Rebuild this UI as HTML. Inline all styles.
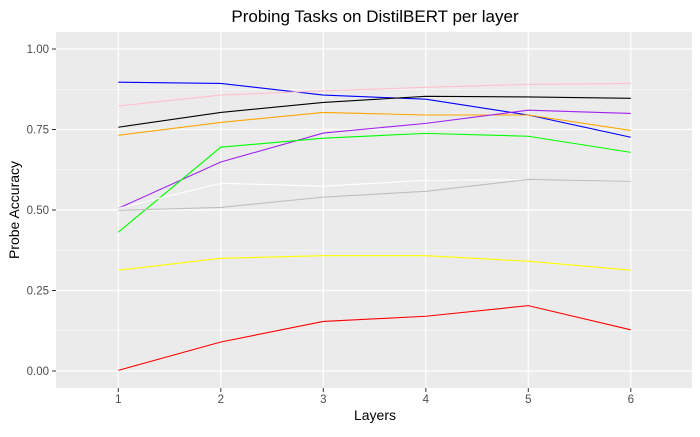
<!DOCTYPE html>
<html><head><meta charset="utf-8"><style>
body{margin:0;background:#fff;font-family:"Liberation Sans",Arial,sans-serif}
svg text{font-family:"Liberation Sans",Arial,sans-serif}
</style></head><body>
<svg id="chart" width="700" height="432" viewBox="0 0 700 432">
<rect x="0" y="0" width="700" height="432" fill="#fff"/>
<text x="375" y="22" text-anchor="middle" font-size="17" fill="#000">Probing Tasks on DistilBERT per layer</text>
<rect x="56" y="32" width="636" height="356" fill="#ebebeb"/>
<g id="grid"></g>
<g id="series"></g>
<g id="axes"></g>
<text x="375" y="420" text-anchor="middle" font-size="14" fill="#000">Layers</text>
<text x="0" y="0" transform="translate(19,210) rotate(-90)" text-anchor="middle" font-size="14" fill="#000">Probe Accuracy</text>
</svg>
<script>
const layers = [1,2,3,4,5,6];
const yTicks = [0,0.25,0.5,0.75,1.0];
const yTickLabels = ["0.00","0.25","0.50","0.75","1.00"];
const seriesColors = ["blue","pink","black","orange","#a020f0","#00ff00","white","#bebebe","yellow","red"];
const blueVals = [0.897,0.893,0.857,0.844,0.795,0.726];
const pinkVals = [0.823,0.857,0.870,0.881,0.890,0.893];
const blackVals = [0.757,0.803,0.834,0.853,0.851,0.847];
const orangeVals = [0.732,0.772,0.803,0.795,0.795,0.747];
const purpleVals = [0.505,0.649,0.739,0.769,0.810,0.800];
const greenVals = [0.431,0.695,0.723,0.738,0.729,0.679];
const whiteVals = [0.505,0.583,0.574,0.592,0.594,0.591];
const grayVals = [0.499,0.508,0.540,0.558,0.595,0.589];
const yellowVals = [0.313,0.350,0.358,0.358,0.341,0.313];
const redVals = [0.002,0.090,0.154,0.170,0.203,0.128];
const allSeries = [blueVals,pinkVals,blackVals,orangeVals,purpleVals,greenVals,whiteVals,grayVals,yellowVals,redVals];
const seriesNames = ["blue","pink","black","orange","purple","green","white","gray","yellow","red"];

const NS="http://www.w3.org/2000/svg";
const xScale = v => 118.3 + (v-1)*102.5;
const yScale = v => 371 - v*322;
function mk(tag, attrs, parent){const e=document.createElementNS(NS,tag);for(const k in attrs)e.setAttribute(k,attrs[k]);parent.appendChild(e);return e;}
const grid=document.getElementById('grid'), axes=document.getElementById('axes'), ser=document.getElementById('series');
for(let i=0;i<yTicks.length-1;i++){
  const m=(yTicks[i]+yTicks[i+1])/2;
  const g=mk('line',{x1:56,x2:692,y1:yScale(m),y2:yScale(m),stroke:'#fff','stroke-width':0.6},grid);
  
  
}
yTicks.forEach((t,i)=>{
  const g=mk('line',{x1:56,x2:692,y1:yScale(t),y2:yScale(t),stroke:'#fff','stroke-width':1.2},grid);
  
  
  const tk=mk('line',{x1:52,x2:56,y1:yScale(t),y2:yScale(t),stroke:'#333','stroke-width':1},axes);
  
  
  const tx=mk('text',{x:49,y:yScale(t)+4,'text-anchor':'end','font-size':11.5,fill:'#4d4d4d'},axes);
  tx.textContent=yTickLabels[i];
  
  
});
layers.forEach(l=>{
  const g=mk('line',{x1:xScale(l),x2:xScale(l),y1:32,y2:388,stroke:'#fff','stroke-width':1.2},grid);
  
  
  const tk=mk('line',{x1:xScale(l),x2:xScale(l),y1:388,y2:392,stroke:'#333','stroke-width':1},axes);
  
  
  const tx=mk('text',{x:xScale(l),y:403,'text-anchor':'middle','font-size':11.5,fill:'#4d4d4d'},axes);
  tx.textContent=String(l);
  
  
});
allSeries.forEach((vals,si)=>{
  const pts=vals.map((v,i)=>xScale(layers[i])+','+yScale(v)).join(' ');
  const p=mk('polyline',{points:pts,fill:'none',stroke:seriesColors[si],'stroke-width':1.1},ser);
  
  
});
</script>
</body></html>
